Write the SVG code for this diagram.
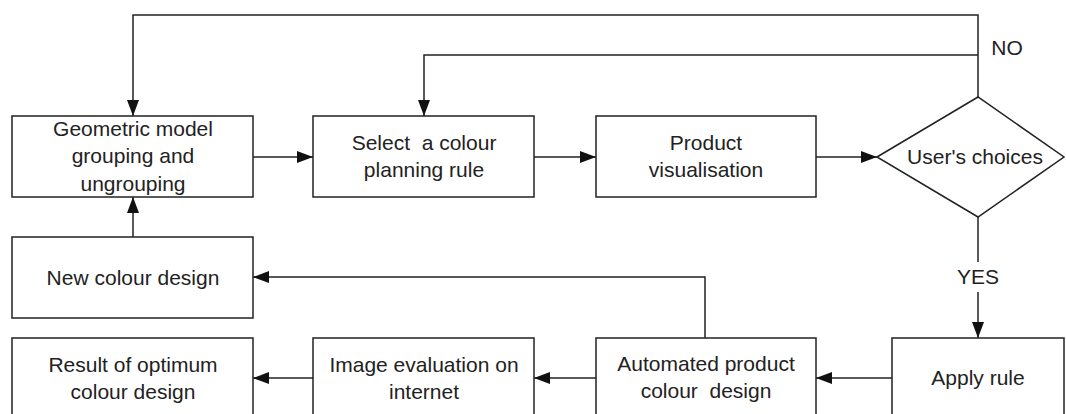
<svg xmlns="http://www.w3.org/2000/svg" width="1066" height="414" viewBox="0 0 1066 414">
<style>
.box{fill:#fff;stroke:#222;stroke-width:1.5}
.t{font-family:"Liberation Sans",Arial,sans-serif;font-size:21px;fill:#222;text-anchor:middle;white-space:pre}
.c{fill:none;stroke:#222;stroke-width:1.5}
</style>
<defs>
<marker id="ah" viewBox="0 0 16 12" refX="16" refY="6" markerWidth="16" markerHeight="12" markerUnits="userSpaceOnUse" orient="auto">
<path d="M0,0 L16,6 L0,12 Z" fill="#111"/>
</marker>
</defs>
<rect width="1066" height="414" fill="#fff"/>
<g id="connectors">
<path class="c" d="M978,97 V15 H133 V116" marker-end="url(#ah)"/>
<path class="c" d="M978,55 H424 V116" marker-end="url(#ah)"/>
<path class="c" d="M253,157 H313" marker-end="url(#ah)"/>
<path class="c" d="M534,157 H596" marker-end="url(#ah)"/>
<path class="c" d="M816,157 H877" marker-end="url(#ah)"/>
<path class="c" d="M978,217 V262"/>
<path class="c" d="M978,292 V338" marker-end="url(#ah)"/>
<path class="c" d="M892,378 H816" marker-end="url(#ah)"/>
<path class="c" d="M596,378 H534" marker-end="url(#ah)"/>
<path class="c" d="M313,378 H253" marker-end="url(#ah)"/>
<path class="c" d="M705,338 V277 H253" marker-end="url(#ah)"/>
<path class="c" d="M133,237 V197" marker-end="url(#ah)"/>
<text class="t" x="1007" y="55">NO</text>
<text class="t" x="978" y="284">YES</text>
</g>
<g id="geometric">
<rect class="box" x="12" y="116" width="241" height="81"/>
<text class="t" x="133" y="136">Geometric model</text>
<text class="t" x="133" y="163">grouping and</text>
<text class="t" x="133" y="191">ungrouping</text>
</g>
<g id="select">
<rect class="box" x="313" y="116" width="221" height="81"/>
<text class="t" x="424" y="150">Select  a colour</text>
<text class="t" x="424" y="177">planning rule</text>
</g>
<g id="product">
<rect class="box" x="596" y="116" width="220" height="81"/>
<text class="t" x="706" y="150">Product</text>
<text class="t" x="706" y="177">visualisation</text>
</g>
<g id="choices">
<polygon class="box" points="877,157 978,97 1064,157 978,217"/>
<text class="t" x="975" y="164">User's choices</text>
</g>
<g id="newcolour">
<rect class="box" x="12" y="237" width="241" height="81"/>
<text class="t" x="133" y="285">New colour design</text>
</g>
<g id="result">
<rect class="box" x="12" y="338" width="241" height="81"/>
<text class="t" x="133" y="372">Result of optimum</text>
<text class="t" x="133" y="399">colour design</text>
</g>
<g id="imageeval">
<rect class="box" x="313" y="338" width="221" height="81"/>
<text class="t" x="424" y="372">Image evaluation on</text>
<text class="t" x="424" y="399">internet</text>
</g>
<g id="automated">
<rect class="box" x="596" y="338" width="220" height="81"/>
<text class="t" x="706" y="371">Automated product</text>
<text class="t" x="706" y="398">colour  design</text>
</g>
<g id="apply">
<rect class="box" x="892" y="338" width="172" height="81"/>
<text class="t" x="978" y="385">Apply rule</text>
</g>
</svg>
